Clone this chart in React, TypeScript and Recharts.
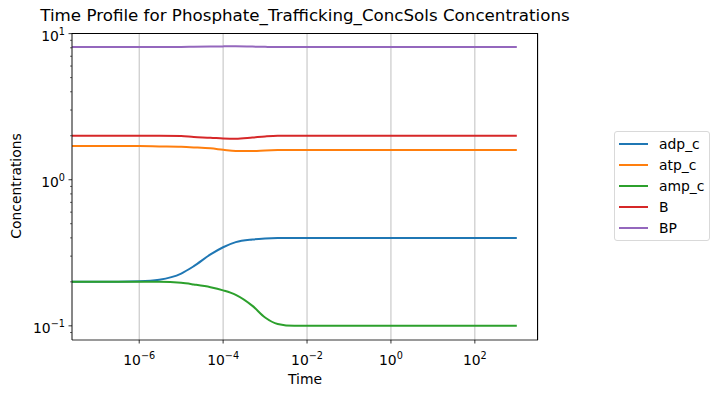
import { LineChart, Line, XAxis, YAxis, CartesianGrid } from 'recharts';

const times = [2.5e-8, 1e-7, 1e-6, 3e-6, 1e-5, 2e-5, 5e-5, 1e-4, 2e-4, 5e-4, 1e-3, 2e-3, 5e-3, 1e-2, 1e-1, 1, 10, 100, 1000];
const adp = [0.2, 0.2, 0.202, 0.207, 0.228, 0.256, 0.308, 0.345, 0.374, 0.39, 0.396, 0.399, 0.4, 0.4, 0.4, 0.4, 0.4, 0.4, 0.4];
const atp = [1.7, 1.7, 1.7, 1.69, 1.68, 1.665, 1.64, 1.605, 1.575, 1.57, 1.585, 1.595, 1.6, 1.6, 1.6, 1.6, 1.6, 1.6, 1.6];
const amp = [0.2, 0.2, 0.2, 0.2, 0.197, 0.192, 0.184, 0.175, 0.163, 0.137, 0.114, 0.103, 0.1, 0.1, 0.1, 0.1, 0.1, 0.1, 0.1];
const B = [2, 2, 2, 2, 1.99, 1.96, 1.94, 1.915, 1.905, 1.945, 1.98, 2, 2, 2, 2, 2, 2, 2, 2];
const BP = [8.1, 8.1, 8.1, 8.1, 8.1, 8.13, 8.16, 8.18, 8.19, 8.15, 8.12, 8.1, 8.1, 8.1, 8.1, 8.1, 8.1, 8.1, 8.1];

const xTicks = [1e-6, 1e-4, 1e-2, 1, 100];
const xTickExp = ['−6', '−4', '−2', '0', '2'];
const yTicks = [0.09, 0.1, 0.2, 0.3, 0.4, 0.5, 0.6, 0.7, 0.8, 0.9, 1, 2, 3, 4, 5, 6, 7, 8, 9, 10];
const yMajor = [0.1, 1, 10];
const yMajorExp = ['−1', '0', '1'];

const series = [
    { key: 'adp_c', values: adp, color: '#1f77b4' },
    { key: 'atp_c', values: atp, color: '#ff7f0e' },
    { key: 'amp_c', values: amp, color: '#2ca02c' },
    { key: 'B', values: B, color: '#d62728' },
    { key: 'BP', values: BP, color: '#9467bd' },
];

const data = times.map((t, i) => {
    const row: Record<string, number> = { t };
    series.forEach((s) => { row[s.key] = s.values[i]; });
    return row;
});

const font = 'DejaVu Sans, sans-serif';
const W = 719;
const H = 398;
const M = { top: 33, right: 181, left: 0, bottom: 0 };
const yAxisW = 72;
const xAxisH = 58;

const XTick = (props: any) => {
    const { x, y, payload } = props;
    const i = xTicks.indexOf(payload.value);
    return (
        <g>
            <line x1={x} x2={x} y1={y} y2={y + 3.5} stroke="#000" strokeWidth={0.8} />
            <text x={x} y={y + 24.5} textAnchor="middle" fontSize={13.9} fontFamily={font} fill="#000">
                <tspan>10</tspan>
                <tspan dy={-6} fontSize={9.7}>{xTickExp[i]}</tspan>
            </text>
        </g>
    );
};

const YTick = (props: any) => {
    const { x, y, payload } = props;
    const i = yMajor.indexOf(payload.value);
    if (i < 0) {
        return <line x1={x - 2} x2={x} y1={y} y2={y} stroke="#000" strokeWidth={0.6} />;
    }
    return (
        <g>
            <line x1={x - 3.5} x2={x} y1={y} y2={y} stroke="#000" strokeWidth={0.8} />
            <text x={x - 7} y={y + 7} textAnchor="end" fontSize={13.9} fontFamily={font} fill="#000">
                <tspan>10</tspan>
                <tspan dy={-6} fontSize={9.7}>{yMajorExp[i]}</tspan>
            </text>
        </g>
    );
};

export default function App() {
    const plotW = W - M.left - M.right - yAxisW;
    const plotH = H - M.top - M.bottom - xAxisH;
    return (
        <div style={{ position: 'absolute', left: 0, top: 0, width: W, height: H, background: '#fff', fontFamily: font }}>
            <div style={{ position: 'absolute', left: 0, width: 610, top: 5, textAlign: 'center', fontSize: 16.7, color: '#000', whiteSpace: 'nowrap' }}>
                Time Profile for Phosphate_Trafficking_ConcSols Concentrations
            </div>
            <LineChart width={W} height={H} data={data} margin={M}>
                <CartesianGrid horizontal={false} stroke="#b0b0b0" strokeWidth={0.8} />
                <XAxis
                    dataKey="t"
                    type="number"
                    scale="log"
                    domain={[2.5e-8, 3200]}
                    allowDataOverflow
                    ticks={xTicks}
                    tick={<XTick />}
                    tickLine={false}
                    tickSize={0}
                    tickMargin={0}
                    height={xAxisH}
                    interval={0}
                    axisLine={{ stroke: '#000', strokeWidth: 0.8 }}
                />
                <YAxis
                    type="number"
                    scale="log"
                    domain={[0.08, 10.1]}
                    allowDataOverflow
                    ticks={yTicks}
                    tick={<YTick />}
                    tickLine={false}
                    tickSize={0}
                    tickMargin={0}
                    width={yAxisW}
                    interval={0}
                    axisLine={{ stroke: '#000', strokeWidth: 0.8 }}
                />
                {series.map((s) => (
                    <Line
                        key={s.key}
                        type="monotone"
                        dataKey={s.key}
                        stroke={s.color}
                        strokeWidth={2}
                        dot={false}
                        isAnimationActive={false}
                    />
                ))}
            </LineChart>
            <div style={{ position: 'absolute', left: M.left + yAxisW, top: M.top, width: plotW, height: plotH, boxSizing: 'border-box', borderTop: '1px solid #000', borderRight: '1px solid #000', pointerEvents: 'none' }} />
            <div style={{ position: 'absolute', left: 0, width: 610, top: 371, textAlign: 'center', fontSize: 13.9, color: '#000' }}>
                Time
            </div>
            <div style={{ position: 'absolute', left: 16, top: 186, fontSize: 13.9, color: '#000', transform: 'translate(-50%, -50%) rotate(-90deg)', whiteSpace: 'nowrap' }}>
                Concentrations
            </div>
            <div style={{ position: 'absolute', left: 614, top: 131, width: 94, height: 108, border: '1px solid #d9d9d9', borderRadius: 3, fontSize: 13.9, color: '#000' }}>
                {series.map((s, i) => (
                    <div key={s.key} style={{ position: 'absolute', left: 4, top: 2 + i * 21, height: 20, display: 'flex', alignItems: 'center' }}>
                        <div style={{ width: 29, height: 2, background: s.color }} />
                        <span style={{ marginLeft: 11 }}>{s.key}</span>
                    </div>
                ))}
            </div>
        </div>
    );
}
